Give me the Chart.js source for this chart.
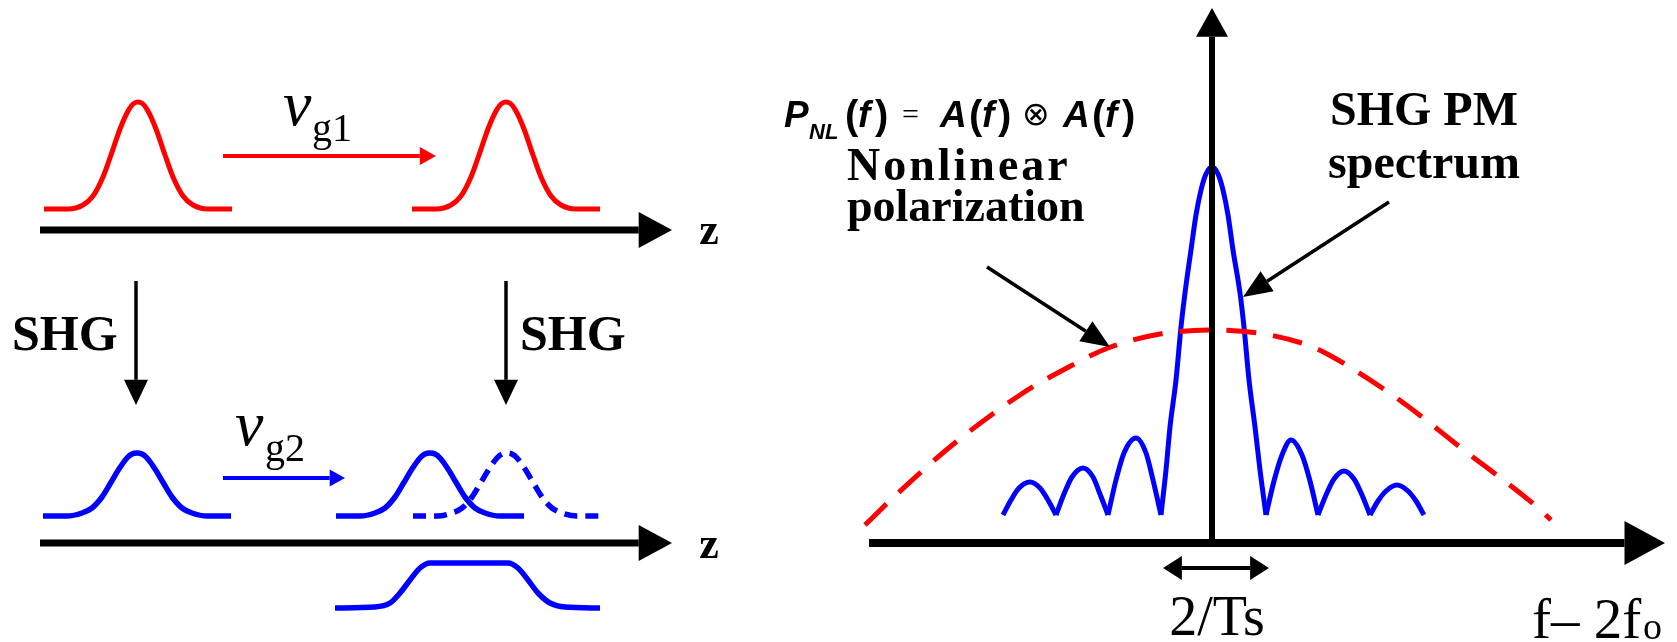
<!DOCTYPE html>
<html>
<head>
<meta charset="utf-8">
<script src="https://cdn.jsdelivr.net/npm/chart.js@4.4.1/dist/chart.umd.min.js"></script>
<style>
  html, body { margin: 0; padding: 0; background: #fff; }
  #wrap { width: 1677px; height: 642px; }
</style>
</head>
<body>
<div id="wrap"><canvas id="chart" width="1677" height="642"></canvas></div>
<script>
// Values, in picture units (x right, y down).

// Gaussian pulse profile: offset from the pulse centre and rise above its baseline
const pulseDx = [-94, -70, -55, -45, -35, -27, -18, -10, -5, 0, 5, 10, 18, 27, 35, 45, 55, 70, 94];
const redPulseRise = [0, 0, 4, 13, 32, 54, 80, 98, 105, 107, 105, 98, 80, 54, 32, 13, 4, 0, 0];
const bluePulseRise = [0, 0, 3, 8, 19, 32, 47, 58, 62, 63, 62, 58, 47, 32, 19, 8, 3, 0, 0];

const redPulseCentres = [138, 506];
const redBaseline = 209;
const bluePulseCentres = [137, 430];
const blueDashedCentre = 507;
const blueBaseline = 516;

// broadened SHG pulse (flat top)
const flatTopX = [335, 375, 390, 400, 410, 420, 430, 508, 518, 528, 538, 550, 565, 600];
const flatTopY = [608, 607, 603, 593, 580, 568, 563, 563, 568, 580, 593, 603, 607, 608];

// nonlinear polarization (red dashed)
const polX = [865, 898, 956, 1023, 1065, 1108, 1160, 1212, 1264, 1310, 1331, 1398, 1465, 1536, 1551];
const polY = [525, 493, 442, 393, 369, 348, 334, 330, 334, 346, 356, 399, 451, 506, 520];

// SHG phase-matching spectrum: main lobe and side lobes
const mainLobeX = [1161, 1166, 1170, 1176, 1181, 1185, 1191, 1196, 1201, 1206, 1212, 1218, 1223, 1228, 1233, 1240, 1244, 1249, 1255, 1260, 1266];
const mainLobeY = [515, 470, 427, 380, 327, 293, 250, 215, 190, 174, 167, 174, 190, 215, 250, 293, 327, 380, 427, 470, 515];
const sideLobes = [
  { x: [1003, 1011, 1019, 1030, 1040, 1048, 1056], y: [515, 500, 488, 482, 488, 500, 515] },
  { x: [1056, 1064, 1072, 1083, 1093, 1100, 1108], y: [515, 494, 477, 468, 477, 494, 515] },
  { x: [1108, 1116, 1124, 1136, 1146, 1153, 1161], y: [515, 480, 453, 438, 453, 480, 515] },
  { x: [1266, 1274, 1282, 1291, 1302, 1310, 1318], y: [515, 481, 455, 440, 455, 481, 515] },
  { x: [1318, 1326, 1334, 1344, 1354, 1362, 1370], y: [515, 495, 479, 471, 479, 495, 515] },
  { x: [1370, 1378, 1386, 1397, 1408, 1416, 1424], y: [515, 501, 491, 485, 491, 501, 515] },
];

const RED = '#ff0000';
const BLUE = '#0000ff';

const pts = (xs, ys) => xs.map((x, i) => ({ x, y: ys[i] }));
const pulse = (centre, baseline, rise) => pulseDx.map((dx, i) => ({ x: centre + dx, y: baseline - rise[i] }));

const curve = (data, color, width, dash) => ({
  data,
  showLine: true,
  borderColor: color,
  borderWidth: width,
  borderDash: dash || [],
  borderCapStyle: 'butt',
  borderJoinStyle: 'round',
  pointRadius: 0,
  fill: false,
  cubicInterpolationMode: 'monotone',
});

const datasets = [
  ...redPulseCentres.map(c => curve(pulse(c, redBaseline, redPulseRise), RED, 5)),
  ...bluePulseCentres.map(c => curve(pulse(c, blueBaseline, bluePulseRise), BLUE, 5.5)),
  curve(pulse(blueDashedCentre, blueBaseline, bluePulseRise), BLUE, 5.5, [13, 8]),
  curve(pts(flatTopX, flatTopY), BLUE, 5.5),
  curve(pts(polX, polY), RED, 5, [30, 17]),
  curve(pts(mainLobeX, mainLobeY), BLUE, 5),
  ...sideLobes.map(l => curve(pts(l.x, l.y), BLUE, 5)),
];

// arrows: from, to, colour, line width, head length, head half width, both ends
const arrows = [
  [40, 230, 672, 230, '#000', 7, 37, 18],
  [40, 543, 672, 543, '#000', 7, 37, 18],
  [136, 281, 136, 405, '#000', 3.5, 28, 12],
  [506, 281, 506, 405, '#000', 3.5, 28, 12],
  [223, 156, 436, 156, RED, 4, 18, 9],
  [223, 478, 345, 478, BLUE, 4, 17, 8.5],
  [869, 543, 1665, 543, '#000', 8, 45, 22],
  [1212, 543, 1212, 8, '#000', 6, 32, 16],
  [987, 267, 1110, 347, '#000', 3.5, 32, 12],
  [1389, 202, 1243, 297, '#000', 3.5, 32, 12],
  [1163, 568, 1269, 568, '#000', 4, 21, 12, true],
];

const SERIF = '"Liberation Serif", "Times New Roman", serif';
const SANS = '"Liberation Sans", Arial, sans-serif';
const SYM = 'italic bold 37px ' + SANS;
const PAREN = 'bold 40px ' + SANS;

// text: string, x, baseline, font, align, letter spacing
const labels = [
  ['z', 709, 244, 'bold 44px ' + SERIF, 'center'],
  ['z', 709, 558, 'bold 44px ' + SERIF, 'center'],
  ['SHG', 12, 350, 'bold 50px ' + SERIF, 'left'],
  ['SHG', 520, 350, 'bold 50px ' + SERIF, 'left'],
  ['v', 283, 125, 'italic 64px ' + SERIF, 'left'],
  ['g1', 312, 141, '40px ' + SERIF, 'left'],
  ['v', 235, 445, 'italic 64px ' + SERIF, 'left'],
  ['g2', 265, 461, '40px ' + SERIF, 'left'],
  ['P', 784, 127, SYM, 'left'],
  ['NL', 809, 139, 'italic bold 22px ' + SANS, 'left'],
  ['(', 845, 129, PAREN, 'left'],
  ['f', 858, 127, SYM, 'left'],
  [')', 875, 129, PAREN, 'left'],
  ['=', 902, 124, '30px ' + SERIF, 'left'],
  ['A', 940, 127, SYM, 'left'],
  ['(', 969, 129, PAREN, 'left'],
  ['f', 982, 127, SYM, 'left'],
  [')', 998, 129, PAREN, 'left'],
  ['\u2297', 1022, 125, '33px "DejaVu Sans", sans-serif', 'left'],
  ['A', 1063, 127, SYM, 'left'],
  ['(', 1092, 129, PAREN, 'left'],
  ['f', 1105, 127, SYM, 'left'],
  [')', 1122, 129, PAREN, 'left'],
  ['Nonlinear', 847, 180, 'bold 46px ' + SERIF, 'left', 3],
  ['polarization', 847, 221, 'bold 46px ' + SERIF, 'left'],
  ['SHG PM', 1424, 125, 'bold 48px ' + SERIF, 'center'],
  ['spectrum', 1424, 178, 'bold 48px ' + SERIF, 'center'],
  ['2/Ts', 1217, 635, '56px ' + SERIF, 'center'],
  ['f\u2013 2f', 1532, 638, '57px ' + SERIF, 'left'],
  ['o', 1643, 639, '38px ' + SERIF, 'left'],
];

function drawArrowHead(ctx, tx, ty, ang, len, half) {
  const bx = tx - len * Math.cos(ang);
  const by = ty - len * Math.sin(ang);
  ctx.beginPath();
  ctx.moveTo(tx, ty);
  ctx.lineTo(bx + half * Math.sin(ang), by - half * Math.cos(ang));
  ctx.lineTo(bx - half * Math.sin(ang), by + half * Math.cos(ang));
  ctx.closePath();
  ctx.fill();
  return [bx, by];
}

const sketchPlugin = {
  id: 'sketch',
  afterDatasetsDraw(chart) {
    const { ctx } = chart;
    const sx = chart.scales.x, sy = chart.scales.y;
    const px = v => sx.getPixelForValue(v);
    const py = v => sy.getPixelForValue(v);
    ctx.save();

    arrows.forEach(([x1, y1, x2, y2, color, w, len, half, both]) => {
      let ax = px(x1), ay = py(y1);
      const bx0 = px(x2), by0 = py(y2);
      const ang = Math.atan2(by0 - ay, bx0 - ax);
      ctx.fillStyle = color;
      ctx.strokeStyle = color;
      const [ex, ey] = drawArrowHead(ctx, bx0, by0, ang, len * 0.9, half);
      if (both) [ax, ay] = drawArrowHead(ctx, ax, ay, ang + Math.PI, len * 0.9, half);
      ctx.lineWidth = w;
      ctx.lineCap = 'butt';
      ctx.beginPath();
      ctx.moveTo(ax, ay);
      ctx.lineTo(ex, ey);
      ctx.stroke();
    });

    ctx.fillStyle = '#000';
    ctx.textBaseline = 'alphabetic';
    labels.forEach(([text, x, y, font, align, spacing]) => {
      ctx.font = font;
      ctx.textAlign = align;
      ctx.letterSpacing = (spacing || 0) + 'px';
      ctx.fillText(text, px(x), py(y));
    });
    ctx.restore();
  },
};

new Chart(document.getElementById('chart').getContext('2d'), {
  type: 'scatter',
  data: { datasets },
  options: {
    responsive: false,
    animation: false,
    events: [],
    layout: { padding: 0 },
    plugins: { legend: { display: false }, tooltip: { enabled: false } },
    scales: {
      x: { type: 'linear', min: 0, max: 1677, display: false },
      y: { type: 'linear', min: 0, max: 642, reverse: true, display: false },
    },
  },
  plugins: [sketchPlugin],
});
</script>
</body>
</html>
